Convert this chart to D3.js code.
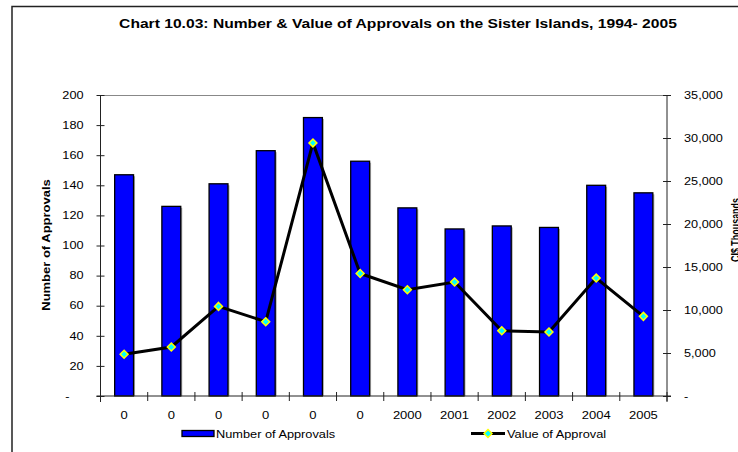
<!DOCTYPE html>
<head>
  <meta charset="utf-8">
  <script src="https://d3js.org/d3.v7.min.js"></script>
  <style>
    body { margin: 0; background: #ffffff; }
    svg { display: block; font-family: "Liberation Sans", Arial, sans-serif; }
    .tick text { font-size: 10px; fill: #000; }
  </style>
</head>
<body>
  <script>
    // Catégories (les six premières années s'affichent "0" dans l'original)
    var categories = ["0", "0", "0", "0", "0", "0", "2000", "2001", "2002", "2003", "2004", "2005"];
    var approvals = [147, 126, 141, 163, 185, 156, 125, 111, 113, 112, 140, 135];
    var values = [4850, 5700, 10420, 8640, 29430, 14250, 12350, 13250, 7590, 7440, 13710, 9260];
    var leftTicks = [0, 20, 40, 60, 80, 100, 120, 140, 160, 180, 200];
    var rightTicks = [0, 5000, 10000, 15000, 20000, 25000, 30000, 35000];

    var w = 738, h = 452;
    var pLeft = 100.5, pRight = 667, pTop = 95, pBottom = 396;

    // le texte de l'original est étiré horizontalement
    function stretch(sel, k) {
      sel.each(function() {
        var len = this.getComputedTextLength();
        d3.select(this)
          .attr("textLength", len * k)
          .attr("lengthAdjust", "spacingAndGlyphs");
      });
    }

    var svg = d3.select("body").append("svg")
      .attr("width", w)
      .attr("height", h);

    // cadre du graphique
    svg.append("path")
      .attr("d", "M12,452 V6.5 H738")
      .attr("fill", "none")
      .attr("stroke", "#222")
      .attr("stroke-width", 1.5);

    var title = svg.append("text")
      .attr("x", 398)
      .attr("y", 28)
      .attr("text-anchor", "middle")
      .style("font-size", "12.5px")
      .style("font-weight", "bold")
      .text("Chart 10.03: Number & Value of Approvals on the Sister Islands, 1994- 2005");
    stretch(title, 1.25);

    var x = d3.scaleBand()
      .domain(d3.range(categories.length))
      .range([pLeft, pRight])
      .padding(0);

    var y = d3.scaleLinear().domain([0, 200]).range([pBottom, pTop]);
    var y2 = d3.scaleLinear().domain([0, 35000]).range([pBottom, pTop]);

    // bordure haute de la zone de tracé
    svg.append("line")
      .attr("x1", pLeft).attr("x2", pRight)
      .attr("y1", pTop + 0.5).attr("y2", pTop + 0.5)
      .attr("stroke", "#888");

    var bw = x.bandwidth() * 0.4;

    // ombre des barres
    svg.selectAll("rect.shadow")
      .data(approvals)
      .enter()
      .append("rect")
      .attr("class", "shadow")
      .attr("x", function(d, i) { return x(i) + (x.bandwidth() - bw) / 2 + 1.5; })
      .attr("y", function(d) { return y(d) + 1.5; })
      .attr("width", bw)
      .attr("height", function(d) { return pBottom - y(d) - 1.5; })
      .attr("fill", "#aaa");

    svg.selectAll("rect.bar")
      .data(approvals)
      .enter()
      .append("rect")
      .attr("class", "bar")
      .attr("x", function(d, i) { return x(i) + (x.bandwidth() - bw) / 2; })
      .attr("y", function(d) { return y(d); })
      .attr("width", bw)
      .attr("height", function(d) { return pBottom - y(d); })
      .attr("fill", "#0000ff")
      .attr("stroke", "#000")
      .attr("stroke-width", 1.3);

    // axe gauche
    var yAxis = svg.append("g")
      .attr("transform", "translate(" + pLeft + ",0)")
      .call(d3.axisLeft(y).tickValues(leftTicks).tickSize(4).tickPadding(13)
        .tickFormat(function(d) { return d === 0 ? "-" : d; }));
    yAxis.selectAll(".tick line").attr("x2", 4).attr("x1", -4).attr("stroke", "#222");
    yAxis.select(".domain").attr("stroke", "#222").attr("d", "M0," + pTop + "V" + (pBottom + 6));
    yAxis.selectAll(".tick text").filter(function(d) { return d === 0; }).attr("dx", "-14");
    stretch(yAxis.selectAll(".tick text"), 1.27);

    // axe droit
    var yAxis2 = svg.append("g")
      .attr("transform", "translate(" + pRight + ",0)")
      .call(d3.axisRight(y2).tickValues(rightTicks).tickSize(4).tickPadding(13)
        .tickFormat(function(d) { return d === 0 ? "-" : d3.format(",")(d); }));
    yAxis2.selectAll(".tick line").attr("x1", -4).attr("x2", 4).attr("stroke", "#222");
    yAxis2.select(".domain").attr("stroke", "#222").attr("d", "M0," + pTop + "V" + (pBottom + 6));
    stretch(yAxis2.selectAll(".tick text"), 1.27);

    // axe des catégories
    var xAxis = svg.append("g")
      .attr("transform", "translate(0," + pBottom + ")");
    xAxis.append("line")
      .attr("x1", pLeft - 4).attr("x2", pRight + 4)
      .attr("stroke", "#222");
    xAxis.selectAll("line.tk")
      .data(d3.range(categories.length + 1))
      .enter()
      .append("line")
      .attr("class", "tk")
      .attr("x1", function(i) { return pLeft + i * x.step(); })
      .attr("x2", function(i) { return pLeft + i * x.step(); })
      .attr("y1", -4).attr("y2", 5)
      .attr("stroke", "#222");
    var xl = xAxis.selectAll("text")
      .data(categories)
      .enter()
      .append("text")
      .attr("x", function(d, i) { return x(i) + x.bandwidth() / 2; })
      .attr("y", 23)
      .attr("text-anchor", "middle")
      .style("font-size", "10px")
      .text(function(d) { return d; });
    stretch(xl, 1.3);

    // titres des axes
    var t1 = svg.append("text")
      .attr("transform", "translate(50,245) rotate(-90)")
      .attr("text-anchor", "middle")
      .style("font-size", "11px")
      .style("font-weight", "bold")
      .text("Number of Approvals");
    stretch(t1, 1.18);

    // titre droit, coupé par le bord comme dans l'original
    svg.append("text")
      .attr("transform", "translate(739.5,230) rotate(-90)")
      .attr("text-anchor", "middle")
      .style("font-size", "12px")
      .style("font-weight", "bold")
      .attr("textLength", 64)
      .attr("lengthAdjust", "spacingAndGlyphs")
      .text("CI$ Thousands");

    // ligne des valeurs
    var line = d3.line()
      .x(function(d, i) { return x(i) + x.bandwidth() / 2; })
      .y(function(d) { return y2(d); });

    svg.append("path")
      .datum(values)
      .attr("d", line)
      .attr("fill", "none")
      .attr("stroke", "#000")
      .attr("stroke-width", 3);

    var diamond = d3.symbol().type(d3.symbolDiamond2).size(40);

    svg.selectAll("path.pt")
      .data(values)
      .enter()
      .append("path")
      .attr("class", "pt")
      .attr("d", diamond)
      .attr("transform", function(d, i) {
        return "translate(" + (x(i) + x.bandwidth() / 2) + "," + y2(d) + ")";
      })
      .attr("fill", "#00ffff")
      .attr("stroke", "#ffff00")
      .attr("stroke-width", 1.5);

    // légende
    var leg = svg.append("g");
    leg.append("rect")
      .attr("x", 182).attr("y", 430.5)
      .attr("width", 32).attr("height", 6)
      .attr("fill", "#0000ff")
      .attr("stroke", "#000")
      .attr("stroke-width", 1.3);
    var lt1 = leg.append("text")
      .attr("x", 216).attr("y", 437.5)
      .style("font-size", "11px")
      .text("Number of Approvals");
    stretch(lt1, 1.16);

    leg.append("line")
      .attr("x1", 471).attr("x2", 505)
      .attr("y1", 433.5).attr("y2", 433.5)
      .attr("stroke", "#000")
      .attr("stroke-width", 3);
    leg.append("path")
      .attr("d", diamond)
      .attr("transform", "translate(488,433.5)")
      .attr("fill", "#00ffff")
      .attr("stroke", "#ffff00")
      .attr("stroke-width", 1.5);
    var lt2 = leg.append("text")
      .attr("x", 507).attr("y", 437.5)
      .style("font-size", "11px")
      .text("Value of Approval");
    stretch(lt2, 1.16);
  </script>
</body>
